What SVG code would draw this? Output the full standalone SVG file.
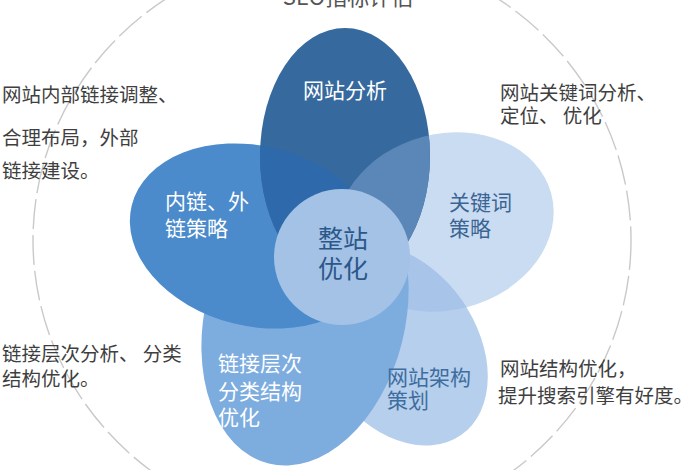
<svg xmlns="http://www.w3.org/2000/svg" width="700" height="470" viewBox="0 0 700 470">
<style>
  text { font-family: "Noto Sans CJK SC", "Noto Sans", "Liberation Sans", sans-serif; }
  .note { font-size: 19.5px; fill: #3f3f3f; }
  .lbl { font-size: 21px; }
  .w { fill: #ffffff; }
  .ring { fill: none; stroke: #c9c9c9; stroke-width: 1.4; stroke-dasharray: 30 6; }
</style>
<defs>
  <ellipse id="shTop" cx="345" cy="156" rx="85" ry="128"/>
  <ellipse id="shLeft" cx="0" cy="0" rx="127" ry="90" transform="translate(255,236) rotate(14)"/>
  <ellipse id="shRight" cx="0" cy="0" rx="110" ry="88" transform="translate(445,222) rotate(-15)"/>
  <ellipse id="shBR" cx="0" cy="0" rx="110" ry="78" transform="translate(398,345) rotate(55)"/>
  <ellipse id="shBL" cx="0" cy="0" rx="150" ry="100" transform="translate(305,318) rotate(104)"/>
  <clipPath id="cTop"><use href="#shTop"/></clipPath>
  <clipPath id="cRight"><use href="#shRight"/></clipPath>
</defs>

<rect width="700" height="470" fill="#ffffff"/>
<ellipse class="ring" cx="332" cy="240" rx="299" ry="290"/>
<text x="348" y="5" text-anchor="middle" font-size="22" fill="#555555">SEO指标评估</text>

<g id="petal-right"><use href="#shRight" fill="#cadcf2"/></g>
<g id="petal-bottom-right"><use href="#shBR" fill="#b6cfec"/></g>
<g id="overlap-1"><use href="#shBR" fill="#a8c4e8" clip-path="url(#cRight)"/></g>
<g id="petal-bottom-left"><use href="#shBL" fill="#7dacdf"/></g>
<g id="petal-left"><use href="#shLeft" fill="#4b8bcc"/></g>
<g id="petal-top"><use href="#shTop" fill="#36699e"/></g>
<g id="overlaps">
  <use href="#shLeft" fill="#2e6aab" clip-path="url(#cTop)"/>
  <use href="#shRight" fill="#5a87b7" clip-path="url(#cTop)"/>
</g>
<g id="center"><circle cx="342" cy="257" r="68" fill="#a3c2e6"/>
  <text x="343" y="248" text-anchor="middle" font-size="25" fill="#2b5789">整站</text>
  <text x="343" y="278" text-anchor="middle" font-size="25" fill="#2b5789">优化</text>
</g>

<g id="label-top"><text class="lbl w" x="345" y="98" text-anchor="middle">网站分析</text></g>
<g id="label-left">
  <text class="lbl w" x="165" y="209">内链、外</text>
  <text class="lbl w" x="165" y="236">链策略</text>
</g>
<g id="label-right">
  <text class="lbl" x="449" y="210" fill="#3b6492" font-size="22">关键词</text>
  <text class="lbl" x="449" y="236" fill="#3b6492" font-size="22">策略</text>
</g>
<g id="label-bottom-left">
  <text class="lbl w" x="218" y="371">链接层次</text>
  <text class="lbl w" x="218" y="399">分类结构</text>
  <text class="lbl w" x="218" y="425">优化</text>
</g>
<g id="label-bottom-right">
  <text class="lbl" x="387" y="385" fill="#3e6d9f">网站架构</text>
  <text class="lbl" x="387" y="408" fill="#3e6d9f">策划</text>
</g>

<g id="note-left-top">
  <text class="note" x="2" y="102">网站内部链接调整、</text>
  <text class="note" x="2" y="145">合理布局，外部</text>
  <text class="note" x="2" y="178">链接建设。</text>
</g>
<g id="note-right-top">
  <text class="note" x="500" y="100">网站关键词分析、</text>
  <text class="note" x="500" y="123">定位、 优化</text>
</g>
<g id="note-left-bottom">
  <text class="note" x="2" y="361">链接层次分析、 分类</text>
  <text class="note" x="2" y="386">结构优化。</text>
</g>
<g id="note-right-bottom">
  <text class="note" x="500" y="376">网站结构优化，</text>
  <text class="note" x="498" y="403">提升搜索引擎有好度。</text>
</g>
</svg>
